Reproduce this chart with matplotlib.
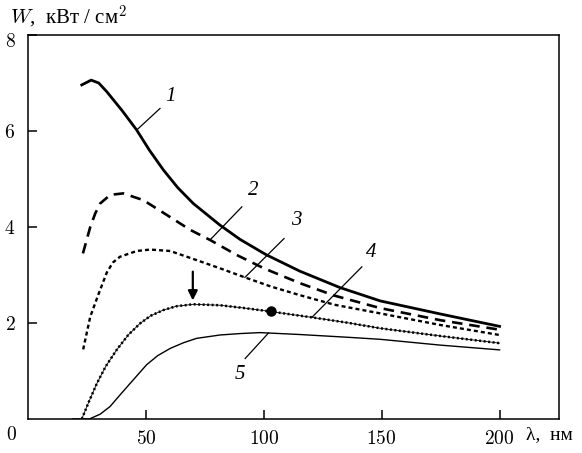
import numpy as np
import matplotlib
matplotlib.use("Agg")
import matplotlib.pyplot as plt
from matplotlib.ticker import FixedFormatter

plt.rcParams['font.family'] = ['Liberation Serif', 'DejaVu Serif']
plt.rcParams['mathtext.fontset'] = 'cm'

# ---- data ----
lam1 = [22.8, 26.8, 30, 33.4, 40, 46.1, 51.5, 57.4, 63.5, 70.1, 81.4, 90, 101.1, 115.3, 132.2, 149.4, 174.7, 200]
w1 = [6.96, 7.06, 7.0, 6.82, 6.42, 6.02, 5.60, 5.19, 4.82, 4.49, 4.04, 3.74, 3.42, 3.08, 2.74, 2.46, 2.19, 1.93]

lam2 = [23.3, 26.4, 28.5, 30.6, 34.9, 40.4, 48.9, 58.9, 68.8, 77.2, 88.4, 100, 115.3, 130, 149.4, 174.7, 200]
w2 = [3.45, 4.0, 4.28, 4.49, 4.67, 4.70, 4.56, 4.25, 3.94, 3.73, 3.42, 3.14, 2.83, 2.57, 2.31, 2.06, 1.86]

lam3 = [23.4, 26.4, 29.9, 33.4, 36, 39, 46.1, 51.8, 60.3, 71.5, 81.4, 92, 103, 115.3, 130, 149.4, 174.7, 200]
w3 = [1.45, 2.13, 2.60, 3.05, 3.26, 3.38, 3.50, 3.53, 3.50, 3.31, 3.14, 2.95, 2.76, 2.58, 2.38, 2.20, 1.96, 1.75]

lam4 = [22.8, 26, 29.2, 33, 37.6, 42.5, 47.5, 52, 57.4, 63, 70.1, 81.4, 92, 102.8, 120, 135, 149.4, 174.7, 200]
w4 = [0.0, 0.38, 0.74, 1.10, 1.44, 1.75, 1.99, 2.15, 2.27, 2.35, 2.39, 2.37, 2.31, 2.24, 2.12, 2.01, 1.89, 1.73, 1.58]

lam5 = [19, 26, 30.6, 34.8, 39, 43.3, 50.3, 55, 60.3, 66, 71.5, 81.4, 90, 98.4, 115.3, 136.5, 149.4, 174.7, 200]
w5 = [0.0, 0.0, 0.10, 0.26, 0.50, 0.74, 1.13, 1.32, 1.47, 1.59, 1.68, 1.75, 1.78, 1.80, 1.76, 1.70, 1.66, 1.54, 1.44]

dot_lam = [103]
dot_w = [2.24]

arrow_lam = 69.9
arrow_from, arrow_to = 3.07, 2.47

curve_labels = ['1', '2', '3', '4', '5']
# (lambda on curve, text lambda, text W, leader end lambda, leader end W)
label_pos = [(46.1, 60.3, 6.72, 56.0, 6.47),
             (77.2, 95.6, 4.76, 90.7, 4.42),
             (92.0, 113.7, 4.13, 108.6, 3.76),
             (120.4, 145.7, 3.47, 141.6, 3.17),
             (102.0, 90.0, 0.93, 92.1, 1.26)]

xticks = [50, 100, 150, 200]
yticks = [2, 4, 6, 8]

# ---- figure ----
fig = plt.figure(figsize=(5.82, 4.53), dpi=100)
ax = fig.add_axes([28 / 582, 34 / 453, 530.5 / 582, 384 / 453])
ax.set_xlim(0, 225)
ax.set_ylim(0, 8)

ax.plot(lam1, w1, color='black', lw=2.0, solid_joinstyle='round')
ax.plot(lam2, w2, color='black', lw=1.9, dashes=(4, 2.6), dash_capstyle='butt')
ax.plot(lam3, w3, color='black', lw=1.7, dashes=(1.7, 1.3), dash_capstyle='butt')
ax.plot(lam4, w4, color='black', lw=0.6)
ax.plot(lam4, w4, color='black', lw=1.8, dashes=(0.8, 1.0), dash_capstyle='butt')
ax.plot(lam5, w5, color='black', lw=1.0)
ax.plot(dot_lam, dot_w, 'o', color='black', ms=6.5)

ax.annotate('', xy=(arrow_lam, arrow_to), xytext=(arrow_lam, arrow_from),
            arrowprops=dict(arrowstyle='-|>', color='black', lw=1.6,
                            mutation_scale=14, shrinkA=0, shrinkB=0))

curves = [(lam1, w1), (lam2, w2), (lam3, w3), (lam4, w4), (lam5, w5)]
for lab, (lx, tx, ty, ex, ey), (cl, cw) in zip(curve_labels, label_pos, curves):
    cy = np.interp(lx, cl, cw)
    ax.plot([lx, ex], [cy, ey], color='black', lw=0.9)
    ax.text(tx, ty, lab, fontsize=15, fontstyle='italic', ha='center', va='center')

ax.set_xticks(xticks)
ax.xaxis.set_major_formatter(FixedFormatter(['$%d$' % v for v in xticks]))
ax.set_yticks(yticks)
# top label "8" is drawn shifted down, separately
ax.yaxis.set_major_formatter(FixedFormatter(['$%d$' % v for v in yticks[:-1]] + ['']))
ax.annotate('$%d$' % yticks[-1], xy=(0, yticks[-1]), xycoords=('axes fraction', 'data'),
            xytext=(-9, -5), textcoords='offset points', ha='right', va='center',
            fontsize=14, annotation_clip=False)
ax.tick_params(direction='in', length=6.5, width=1.1, labelsize=14)
ax.tick_params(axis='x', pad=8)
ax.tick_params(axis='y', pad=9)
for s in ax.spines.values():
    s.set_linewidth(1.1)

fig.text(11 / 582, 1 - 435 / 453, '$0$', fontsize=14, ha='center', va='center')
fig.text(526 / 582, 1 - 435 / 453, 'λ,  нм', fontsize=14, ha='left', va='center')
fig.text(10 / 582, 1 - 24 / 453, '$W$,  кВт / см$^2$', fontsize=15, ha='left', va='baseline')

fig.savefig('out.png', dpi=100)
